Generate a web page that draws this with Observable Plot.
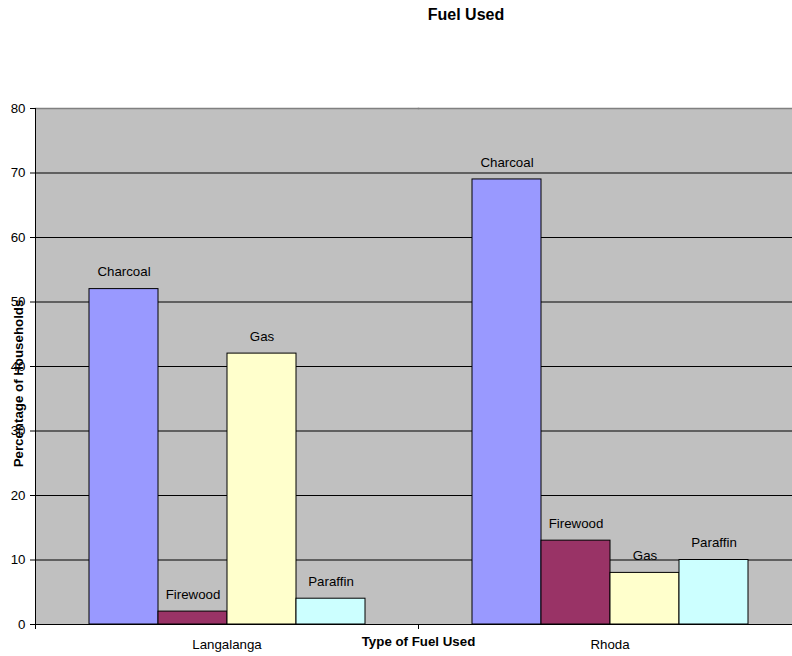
<!DOCTYPE html>
<html><head><meta charset="utf-8">
<script src="https://cdn.jsdelivr.net/npm/d3@7"></script>
<script src="https://cdn.jsdelivr.net/npm/@observablehq/plot@0.6"></script>
<style>
html,body{margin:0;padding:0;background:#fff;overflow:hidden;width:792px;height:656px}
#wrap{position:relative;width:792px;height:656px;font-family:"Liberation Sans",Arial,sans-serif;overflow:hidden}
#title{position:absolute;left:466px;top:6px;transform:translateX(-50%);font-size:16px;font-weight:bold;white-space:nowrap;line-height:18px;color:#000}
#chart{position:absolute;left:0;top:30px;width:802px}
</style></head><body>
<div id="wrap"><div id="title">Fuel Used</div><div id="chart"></div></div>
<script>
const locations = ["Langalanga", "Rhoda"];
const fuels = ["Charcoal", "Firewood", "Gas", "Paraffin"];
const langalanga = [52, 2, 42, 4];
const rhoda = [69, 13, 8, 10];
const yTicks = [0, 10, 20, 30, 40, 50, 60, 70, 80];
const fuelColors = ["#9999FF", "#993366", "#FFFFCC", "#CCFFFF"];

const series = {Langalanga: langalanga, Rhoda: rhoda};
const data = locations.flatMap(loc => fuels.map((f, i) => ({location: loc, fuel: f, value: series[loc][i]})));

const plot = Plot.plot({
  width: 802, height: 626,
  marginLeft: 35, marginRight: 1, marginTop: 78, marginBottom: 32,
  style: {fontFamily: "'Liberation Sans', Arial, sans-serif", fontSize: "13.3px", background: "transparent", color: "#000", overflow: "visible", maxWidth: "none"},
  fx: {domain: locations, padding: 0, label: null},
  x: {domain: fuels, paddingInner: 0, paddingOuter: 0.755, axis: null},
  y: {domain: [0, 80], label: null, axis: null},
  color: {domain: fuels, range: fuelColors},
  marks: [
    Plot.frame({fill: "#c0c0c0", shapeRendering: "crispEdges"}),
    Plot.frame({anchor: "top", stroke: "#808080", strokeWidth: 1.5}),
    Plot.gridY(yTicks.slice(1, -1), {stroke: "#000", strokeOpacity: 1}),
    Plot.barY(data, {fx: "location", x: "fuel", y: "value", fill: "fuel", stroke: "#000", strokeWidth: 1}),
    Plot.text(data, {fx: "location", x: "fuel", y: "value", text: "fuel", dy: -17, fill: "#000"}),
    Plot.ruleY([0], {stroke: "#000"}),
    Plot.frame({anchor: "left", facetAnchor: "left", stroke: "#000"}),
    Plot.frame({anchor: "left", stroke: "#000", insetTop: 516, insetBottom: -4}),
    Plot.axisY(yTicks, {anchor: "left", tickSize: 5, tickPadding: 5, label: null, fill: "#000", stroke: "#000"}),
    Plot.axisFx({anchor: "bottom", tickSize: 0, tickPadding: 15, label: null, fill: "#000"}),
    Plot.text(["Percentage of Households"], {text: d => d, frameAnchor: "left", facetAnchor: "left", rotate: -90, dx: -17, dy: 17, textAnchor: "middle", fontWeight: "bold", fill: "#000"}),
    Plot.text(["Type of Fuel Used"], {text: d => d, frameAnchor: "bottom-right", facetAnchor: "left", dy: 21, textAnchor: "middle", fontWeight: "bold", fill: "#000"})
  ]
});
document.getElementById("chart").appendChild(plot);
</script>
</body></html>
